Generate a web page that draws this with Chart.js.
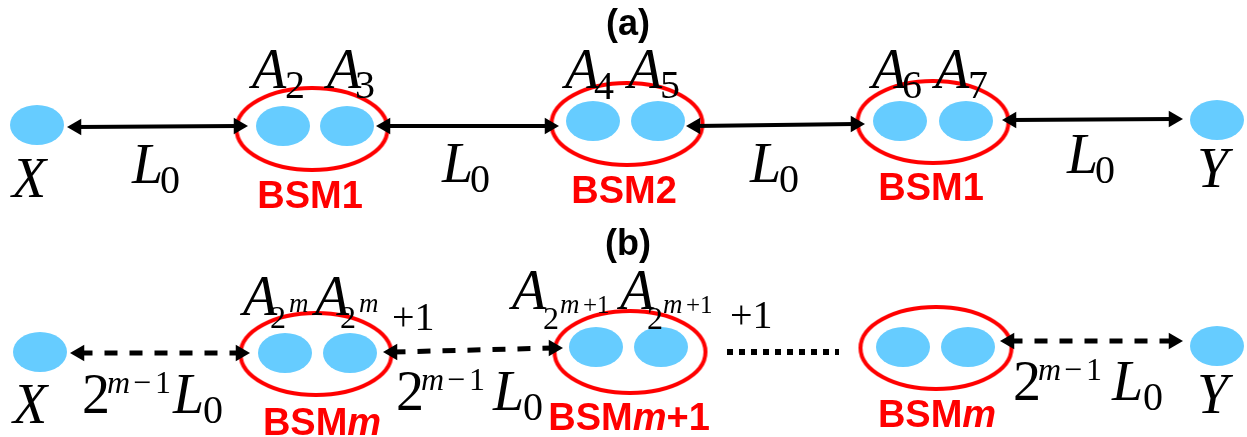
<!DOCTYPE html>
<html>
<head>
<meta charset="utf-8">
<script src="https://cdn.jsdelivr.net/npm/chart.js@4.4.1/dist/chart.umd.min.js"></script>
<style>
  html, body { margin: 0; padding: 0; background: #fff; }
  canvas { display: block; }
</style>
</head>
<body>
<canvas id="diagram" width="1247" height="437"></canvas>
<script>
// ---- diagram data (page coordinates, y grows downward) ----
const W = 1247;
const H = 437;

// row (a): X, A2..A7, Y
const nodeXA = [37, 283, 347, 593, 658, 900, 966, 1217];
const nodeYA = [125, 126, 126, 121, 121, 121, 121, 120];
// row (b): X, A_2^m, A_2^m+1, A_2^(m+1), A_2^(m+1)+1, ..., Y
const nodeXB = [40, 285, 350, 596, 661, 903, 968, 1217];
const nodeYB = [352, 353, 353, 347, 347, 347, 347, 346];

// Bell-state measurement groups
const bsmXA = [312, 627, 933];
const bsmYA = [129, 124, 122];
const bsmXB = [316, 630, 936];
const bsmYB = [354, 352, 348];
const bsmNamesA = ['BSM1', 'BSM2', 'BSM1'];
const bsmNamesB = [['BSM', 'm', ''], ['BSM', 'm', '+1'], ['BSM', 'm', '']];

// links (arrow tips)
const linkFromA = [67, 376, 686, 1002];
const linkToA = [248, 559, 865, 1183];
const linkY1A = [127, 126, 126, 120];
const linkY2A = [126, 126, 124, 119];

const linkFromB = [70, 383, 1000];
const linkToB = [250, 563, 1183];
const linkY1B = [353, 352, 341];
const linkY2B = [353, 348, 341];

// "......" between the middle and the last group of row (b)
const gapX = [727, 839];
const gapY = [352, 352];

// ---- styles ----
const BLUE = '#66ccff';
const RED = '#ff0000';
const HEAD = 9.5;

const FONT = {
  it: 'italic 56px "Liberation Serif"',
  rm: '56px "Liberation Serif"',
  sub: '40px "Liberation Serif"',
  sup: '32px "Liberation Serif"',
  supIt: 'italic 32px "Liberation Serif"',
  sub2: '32px "Liberation Serif"',
  ssIt: 'italic 27px "Liberation Serif"',
  ss: '25px "Liberation Serif"',
  bsm: 'bold 38px "Liberation Sans"',
  bsmIt: 'italic bold 38px "Liberation Sans"',
  title: 'bold 36px "Liberation Sans"'
};

// text runs: [text, left x, baseline y, font]
const mathText = [
  // (a) memories
  ['A', 252, 88, 'it'], ['2', 285, 98, 'sub'],
  ['A', 327, 88, 'it'], ['3', 355, 98, 'sub'],
  ['A', 565, 88, 'it'], ['4', 594, 99, 'sub'],
  ['A', 628, 88, 'it'], ['5', 660, 98, 'sub'],
  ['A', 872, 88, 'it'], ['6', 902, 98, 'sub'],
  ['A', 935, 88, 'it'], ['7', 968, 98, 'sub'],
  ['X', 12, 197, 'it'], ['Y', 1197, 187, 'it'],
  ['L', 132, 183, 'it'], ['0', 160, 193, 'sub'],
  ['L', 442, 182, 'it'], ['0', 470, 192, 'sub'],
  ['L', 750, 182, 'it'], ['0', 779, 192, 'sub'],
  ['L', 1067, 173, 'it'], ['0', 1095, 183, 'sub'],
  // (b) memories
  ['A', 243, 315, 'it'], ['2', 270, 328, 'sub2'], ['m', 289, 312, 'ssIt'],
  ['A', 315, 315, 'it'], ['2', 340, 328, 'sub2'], ['m', 359, 312, 'ssIt'], ['+1', 392, 330, 'sub'],
  ['A', 512, 309, 'it'], ['2', 543, 329, 'sub2'], ['m', 560, 313, 'ssIt'], ['+1', 583, 313, 'ss'],
  ['A', 620, 309, 'it'], ['2', 647, 329, 'sub2'], ['m', 663, 313, 'ssIt'], ['+1', 686, 313, 'ss'], ['+1', 730, 328, 'sub'],
  ['X', 13, 423, 'it'], ['Y', 1197, 413, 'it'],
  // (b) distances 2^(m-1) L0
  ['2', 82, 413, 'rm'], ['m', 107, 393, 'supIt'], ['\u2212', 133, 393, 'sup'], ['1', 155, 393, 'sup'],
  ['L', 173, 413, 'it'], ['0', 203, 423, 'sub'],
  ['2', 396, 410, 'rm'], ['m', 421, 390, 'supIt'], ['\u2212', 447, 390, 'sup'], ['1', 469, 390, 'sup'],
  ['L', 493, 410, 'it'], ['0', 523, 420, 'sub'],
  ['2', 1013, 400, 'rm'], ['m', 1038, 380, 'supIt'], ['\u2212', 1064, 380, 'sup'], ['1', 1086, 380, 'sup'],
  ['L', 1112, 400, 'it'], ['0', 1143, 410, 'sub']
];

const panelTitles = [['(a)', 628, 35], ['(b)', 628, 255]];
const bsmLabelPosA = [[310, 208], [624, 203], [931, 200]];
const bsmLabelPosB = [[322, 435], [629, 430], [937, 427]];

// ---- sprites for the ellipses ----
function ellipseSprite(rx, ry, fill, stroke, lw = 0) {
  const c = document.createElement('canvas');
  c.width = Math.ceil(2 * rx + 2 * lw + 2);
  c.height = Math.ceil(2 * ry + 2 * lw + 2);
  const g = c.getContext('2d');
  g.beginPath();
  g.ellipse(c.width / 2, c.height / 2, rx, ry, 0, 0, Math.PI * 2);
  if (fill) { g.fillStyle = fill; g.fill(); }
  if (stroke) { g.strokeStyle = stroke; g.lineWidth = lw; g.stroke(); }
  return c;
}

const nodeSprite = ellipseSprite(27, 20, BLUE);
const ringSprite = ellipseSprite(75.5, 41, null, RED, 4);

const pts = (xs, ys) => xs.map((x, i) => ({ x, y: ys[i] }));

function ringSet(xs, ys) {
  return { data: pts(xs, ys), showLine: false, pointStyle: ringSprite, order: 3 };
}
function nodeSet(xs, ys) {
  return { data: pts(xs, ys), showLine: false, pointStyle: nodeSprite, order: 2 };
}
function arrowSets(from, to, y1, y2, width, dash) {
  return from.map((fx, i) => ({
    data: [{ x: fx + HEAD, y: y1[i] }, { x: to[i] - HEAD, y: y2[i] }],
    showLine: true,
    borderColor: '#000',
    borderWidth: width,
    borderDash: dash,
    borderCapStyle: 'butt',
    pointStyle: 'triangle',
    pointRadius: HEAD,
    pointRotation: [270, 90],
    pointBackgroundColor: '#000',
    pointBorderWidth: 0,
    order: 1
  }));
}

const datasets = [
  ringSet(bsmXA, bsmYA),
  ringSet(bsmXB, bsmYB),
  nodeSet(nodeXA, nodeYA),
  nodeSet(nodeXB, nodeYB),
  ...arrowSets(linkFromA, linkToA, linkY1A, linkY2A, 4, []),
  ...arrowSets(linkFromB, linkToB, linkY1B, linkY2B, 5, [13, 12]),
  {
    data: pts(gapX, gapY), showLine: true, borderColor: '#000', borderWidth: 6,
    borderDash: [6, 6], borderCapStyle: 'butt', pointRadius: 0, order: 1
  }
];

// ---- text layer ----
function drawCentered(ctx, parts, cx, cy) {
  let total = 0;
  parts.forEach(p => { ctx.font = p[1]; total += ctx.measureText(p[0]).width; });
  let x = cx - total / 2;
  parts.forEach(p => {
    ctx.font = p[1];
    ctx.fillText(p[0], x, cy);
    x += ctx.measureText(p[0]).width;
  });
}

const textPlugin = {
  id: 'diagramText',
  afterDatasetsDraw(chart) {
    const { ctx, scales: { x, y } } = chart;
    ctx.save();
    ctx.textAlign = 'left';
    ctx.textBaseline = 'alphabetic';

    ctx.fillStyle = '#000';
    mathText.forEach(([t, tx, ty, f]) => {
      ctx.font = FONT[f];
      ctx.fillText(t, x.getPixelForValue(tx), y.getPixelForValue(ty));
    });

    panelTitles.forEach(([t, tx, ty]) => {
      drawCentered(ctx, [[t, FONT.title]], x.getPixelForValue(tx), y.getPixelForValue(ty));
    });

    ctx.fillStyle = RED;
    bsmNamesA.forEach((name, i) => {
      const [tx, ty] = bsmLabelPosA[i];
      drawCentered(ctx, [[name, FONT.bsm]], x.getPixelForValue(tx), y.getPixelForValue(ty));
    });
    bsmNamesB.forEach(([a, m, b], i) => {
      const [tx, ty] = bsmLabelPosB[i];
      drawCentered(ctx, [[a, FONT.bsm], [m, FONT.bsmIt], [b, FONT.bsm]],
        x.getPixelForValue(tx), y.getPixelForValue(ty));
    });
    ctx.restore();
  }
};

new Chart(document.getElementById('diagram'), {
  type: 'scatter',
  data: { datasets },
  options: {
    responsive: false,
    animation: false,
    events: [],
    layout: { padding: 0, autoPadding: false },
    elements: { line: { tension: 0 } },
    plugins: { legend: { display: false }, tooltip: { enabled: false } },
    scales: {
      x: { type: 'linear', min: 0, max: W, display: false },
      y: { type: 'linear', min: 0, max: H, reverse: true, display: false }
    }
  },
  plugins: [textPlugin]
});
</script>
</body>
</html>
